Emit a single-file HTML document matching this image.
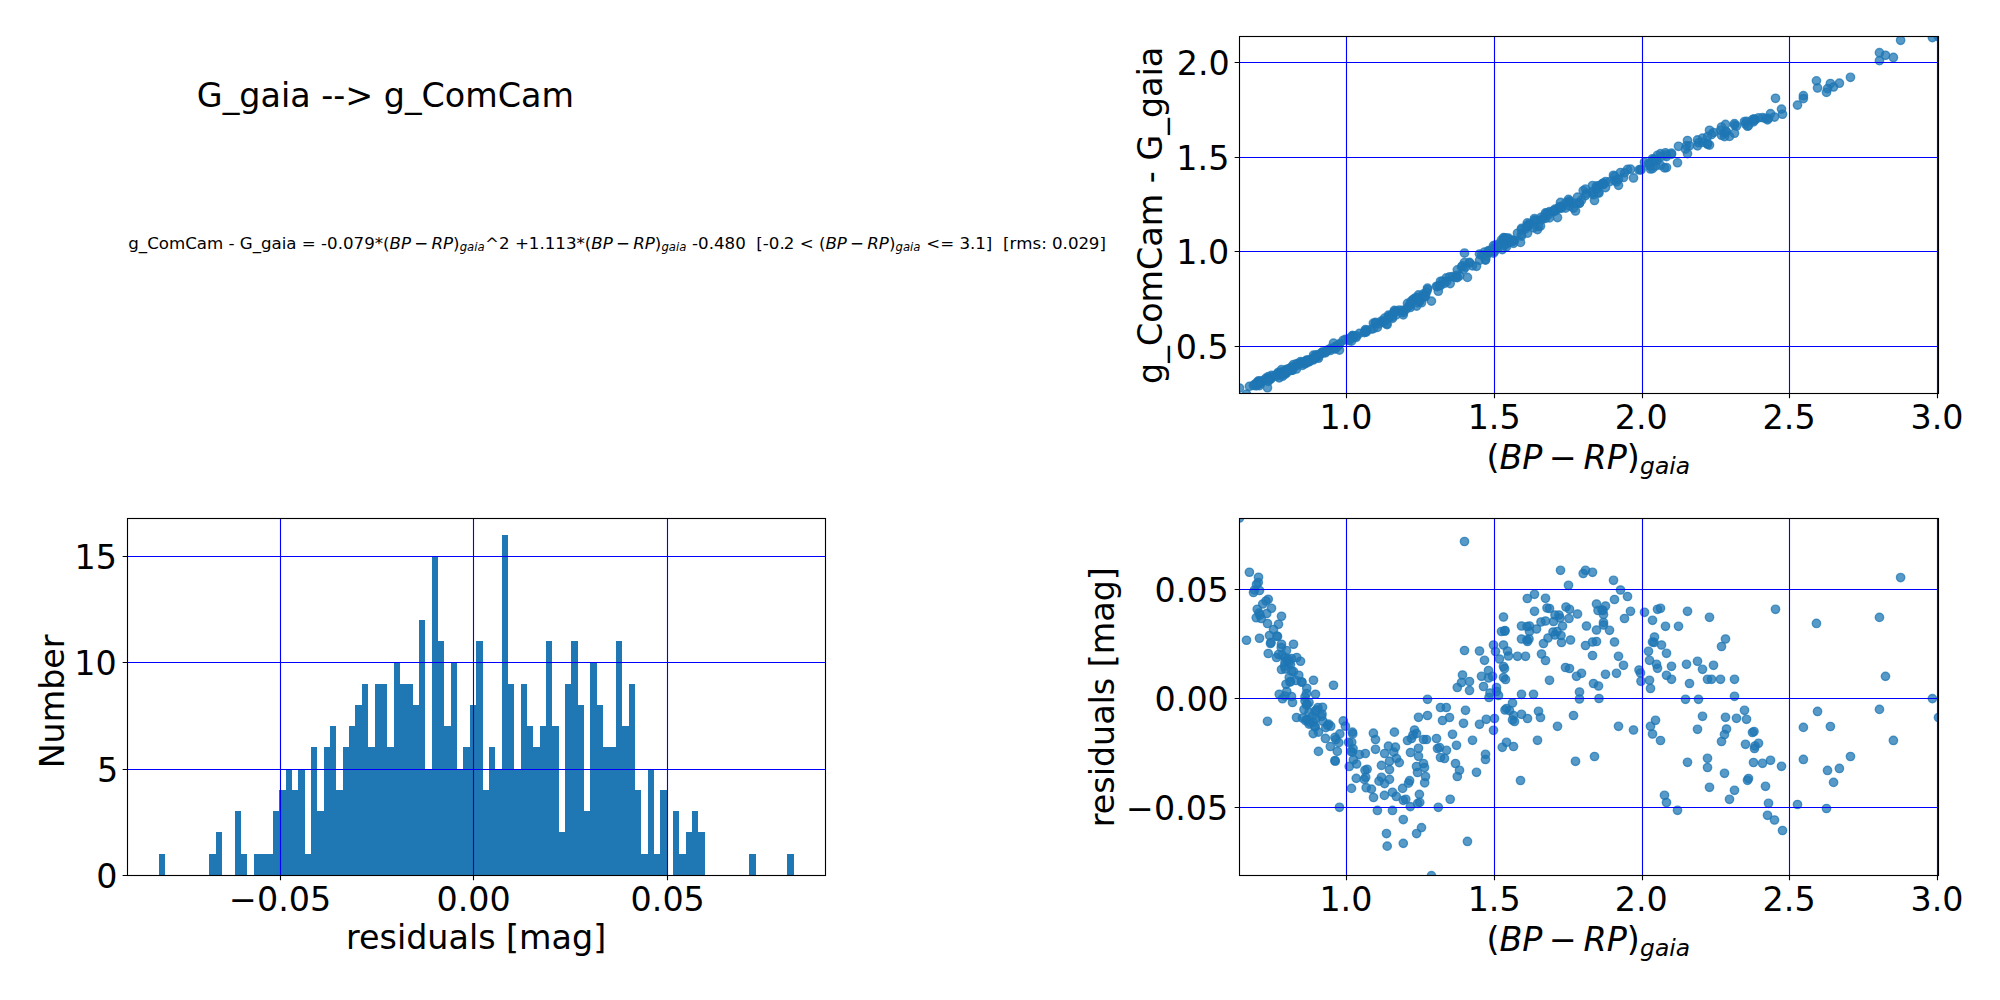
<!DOCTYPE html>
<html lang="en"><head><meta charset="utf-8"><title>G_gaia --&gt; g_ComCam</title>
<style>html,body{margin:0;padding:0;background:#fff}svg{display:block}text{font-family:"DejaVu Sans","Liberation Sans",sans-serif;fill:#000;white-space:pre}.g{stroke:#00f;stroke-width:1.11;fill:none}.s{stroke:#000;stroke-width:1.11;fill:none}.p circle{fill:#1f77b4;fill-opacity:.75;stroke:#1f77b4;stroke-opacity:.75;stroke-width:1.39}</style></head><body>
<svg width="2000" height="1000" viewBox="0 0 2000 1000">
<rect width="2000" height="1000" fill="#fff"/>
<defs><clipPath id="cTR"><rect x="1239.5" y="36.5" width="699" height="357"/></clipPath><clipPath id="cBL"><rect x="127.5" y="518.5" width="698" height="357"/></clipPath><clipPath id="cBR"><rect x="1239.5" y="518.5" width="699" height="357"/></clipPath></defs>
<g class="p" clip-path="url(#cTR)">
<circle cx="1239.5" cy="388.04" r="4.17"/><circle cx="1249.4" cy="386.35" r="4.17"/><circle cx="1258.5" cy="380.94" r="4.17"/><circle cx="1258.25" cy="381.55" r="4.17"/><circle cx="1256.5" cy="382.85" r="4.17"/><circle cx="1254.5" cy="384.61" r="4.17"/><circle cx="1253.5" cy="385.47" r="4.17"/><circle cx="1259.5" cy="381.45" r="4.17"/><circle cx="1268.25" cy="376.61" r="4.17"/><circle cx="1266" cy="378.2" r="4.17"/><circle cx="1262.75" cy="380.54" r="4.17"/><circle cx="1271.5" cy="375.32" r="4.17"/><circle cx="1257.25" cy="384.52" r="4.17"/><circle cx="1259" cy="383.72" r="4.17"/><circle cx="1260" cy="383.25" r="4.17"/><circle cx="1266.75" cy="378.81" r="4.17"/><circle cx="1256.25" cy="385.9" r="4.17"/><circle cx="1261.25" cy="382.76" r="4.17"/><circle cx="1281.5" cy="369.67" r="4.17"/><circle cx="1267.5" cy="379.2" r="4.17"/><circle cx="1278.5" cy="372.26" r="4.17"/><circle cx="1273.5" cy="375.89" r="4.17"/><circle cx="1246.5" cy="394.13" r="4.17"/><circle cx="1259.5" cy="385.59" r="4.17"/><circle cx="1269.5" cy="378.96" r="4.17"/><circle cx="1277" cy="374.23" r="4.17"/><circle cx="1277.5" cy="373.96" r="4.17"/><circle cx="1271" cy="378.61" r="4.17"/><circle cx="1270.5" cy="379.02" r="4.17"/><circle cx="1281.5" cy="372.1" r="4.17"/><circle cx="1293.5" cy="364.52" r="4.17"/><circle cx="1281.25" cy="372.54" r="4.17"/><circle cx="1286.5" cy="369.48" r="4.17"/><circle cx="1268.25" cy="381.32" r="4.17"/><circle cx="1276.5" cy="376.42" r="4.17"/><circle cx="1278.5" cy="374.89" r="4.17"/><circle cx="1282" cy="372.71" r="4.17"/><circle cx="1285" cy="371.03" r="4.17"/><circle cx="1288" cy="369.27" r="4.17"/><circle cx="1291.5" cy="367.02" r="4.17"/><circle cx="1296.75" cy="363.63" r="4.17"/><circle cx="1300.5" cy="361.6" r="4.17"/><circle cx="1285" cy="371.42" r="4.17"/><circle cx="1289" cy="368.99" r="4.17"/><circle cx="1284.5" cy="372.09" r="4.17"/><circle cx="1281.5" cy="374.29" r="4.17"/><circle cx="1285.5" cy="371.72" r="4.17"/><circle cx="1291.5" cy="368.1" r="4.17"/><circle cx="1293.5" cy="366.89" r="4.17"/><circle cx="1298.75" cy="363.92" r="4.17"/><circle cx="1289.25" cy="370.09" r="4.17"/><circle cx="1290.5" cy="369.65" r="4.17"/><circle cx="1290" cy="370.01" r="4.17"/><circle cx="1296" cy="366.1" r="4.17"/><circle cx="1301.5" cy="362.76" r="4.17"/><circle cx="1302" cy="362.49" r="4.17"/><circle cx="1286" cy="372.73" r="4.17"/><circle cx="1313.5" cy="355.13" r="4.17"/><circle cx="1333.5" cy="343.19" r="4.17"/><circle cx="1306.75" cy="360.04" r="4.17"/><circle cx="1286.75" cy="372.88" r="4.17"/><circle cx="1279.25" cy="377.87" r="4.17"/><circle cx="1285" cy="374.38" r="4.17"/><circle cx="1291.5" cy="370.32" r="4.17"/><circle cx="1315.5" cy="355.11" r="4.17"/><circle cx="1306.5" cy="360.65" r="4.17"/><circle cx="1305" cy="361.89" r="4.17"/><circle cx="1282.5" cy="376.2" r="4.17"/><circle cx="1292.5" cy="370.21" r="4.17"/><circle cx="1305" cy="362.24" r="4.17"/><circle cx="1309" cy="359.87" r="4.17"/><circle cx="1306.5" cy="361.65" r="4.17"/><circle cx="1304" cy="363.6" r="4.17"/><circle cx="1318" cy="354.7" r="4.17"/><circle cx="1322.5" cy="351.89" r="4.17"/><circle cx="1315" cy="356.87" r="4.17"/><circle cx="1309" cy="360.74" r="4.17"/><circle cx="1322" cy="352.79" r="4.17"/><circle cx="1296.5" cy="369" r="4.17"/><circle cx="1302.5" cy="365.28" r="4.17"/><circle cx="1312.5" cy="358.86" r="4.17"/><circle cx="1307" cy="362.6" r="4.17"/><circle cx="1267.49" cy="387.7" r="4.17"/><circle cx="1305.5" cy="363.63" r="4.17"/><circle cx="1309" cy="361.75" r="4.17"/><circle cx="1313.2" cy="358.95" r="4.17"/><circle cx="1316" cy="356.9" r="4.17"/><circle cx="1321.6" cy="353.24" r="4.17"/><circle cx="1323" cy="352.8" r="4.17"/><circle cx="1315.3" cy="358.07" r="4.17"/><circle cx="1325.8" cy="351.62" r="4.17"/><circle cx="1328.6" cy="349.58" r="4.17"/><circle cx="1330.7" cy="348.47" r="4.17"/><circle cx="1313.2" cy="359.95" r="4.17"/><circle cx="1318.45" cy="356.57" r="4.17"/><circle cx="1343.3" cy="340.28" r="4.17"/><circle cx="1345.4" cy="339.45" r="4.17"/><circle cx="1339.8" cy="343.55" r="4.17"/><circle cx="1334.9" cy="346.86" r="4.17"/><circle cx="1335.95" cy="346.4" r="4.17"/><circle cx="1325.45" cy="352.78" r="4.17"/><circle cx="1338.75" cy="344.95" r="4.17"/><circle cx="1330.35" cy="350.45" r="4.17"/><circle cx="1337.35" cy="346.57" r="4.17"/><circle cx="1318.45" cy="358.24" r="4.17"/><circle cx="1334.9" cy="348.87" r="4.17"/><circle cx="1335.25" cy="348.71" r="4.17"/><circle cx="1352.4" cy="335.69" r="4.17"/><circle cx="1352.75" cy="335.63" r="4.17"/><circle cx="1348.55" cy="338.92" r="4.17"/><circle cx="1351.7" cy="337" r="4.17"/><circle cx="1353.1" cy="336.7" r="4.17"/><circle cx="1351" cy="338.22" r="4.17"/><circle cx="1352.4" cy="337.43" r="4.17"/><circle cx="1359.4" cy="333.39" r="4.17"/><circle cx="1365.35" cy="329.69" r="4.17"/><circle cx="1353.45" cy="337.46" r="4.17"/><circle cx="1356.6" cy="335.91" r="4.17"/><circle cx="1349.25" cy="340.59" r="4.17"/><circle cx="1373.4" cy="323.08" r="4.17"/><circle cx="1375.5" cy="322.36" r="4.17"/><circle cx="1394.4" cy="310.43" r="4.17"/><circle cx="1375.5" cy="323.21" r="4.17"/><circle cx="1388.45" cy="315.18" r="4.17"/><circle cx="1395.45" cy="311.11" r="4.17"/><circle cx="1393.7" cy="312.57" r="4.17"/><circle cx="1384.6" cy="318.12" r="4.17"/><circle cx="1389.5" cy="315.86" r="4.17"/><circle cx="1396.5" cy="311.46" r="4.17"/><circle cx="1399.3" cy="310.16" r="4.17"/><circle cx="1381.45" cy="321.04" r="4.17"/><circle cx="1389.5" cy="316.59" r="4.17"/><circle cx="1365" cy="331.36" r="4.17"/><circle cx="1367.1" cy="330" r="4.17"/><circle cx="1356.25" cy="337.37" r="4.17"/><circle cx="1364.3" cy="332.58" r="4.17"/><circle cx="1365.7" cy="331.55" r="4.17"/><circle cx="1381.45" cy="322.07" r="4.17"/><circle cx="1379" cy="323.88" r="4.17"/><circle cx="1389.5" cy="317.45" r="4.17"/><circle cx="1384.6" cy="320.74" r="4.17"/><circle cx="1339.46" cy="350.13" r="4.17"/><circle cx="1351.5" cy="341.13" r="4.17"/><circle cx="1366.2" cy="332.15" r="4.17"/><circle cx="1371.45" cy="329.1" r="4.17"/><circle cx="1373.55" cy="328.57" r="4.17"/><circle cx="1384.4" cy="321.88" r="4.17"/><circle cx="1392.45" cy="316.8" r="4.17"/><circle cx="1396.3" cy="314.88" r="4.17"/><circle cx="1402.6" cy="310.45" r="4.17"/><circle cx="1408.55" cy="306.48" r="4.17"/><circle cx="1409.6" cy="305.65" r="4.17"/><circle cx="1424.65" cy="297" r="4.17"/><circle cx="1419.4" cy="301.07" r="4.17"/><circle cx="1403.3" cy="311.07" r="4.17"/><circle cx="1405.75" cy="309.53" r="4.17"/><circle cx="1410.3" cy="307.48" r="4.17"/><circle cx="1417.65" cy="302.89" r="4.17"/><circle cx="1419.75" cy="301.57" r="4.17"/><circle cx="1450.2" cy="283.62" r="4.17"/><circle cx="1438.3" cy="291.19" r="4.17"/><circle cx="1377.4" cy="327.38" r="4.17"/><circle cx="1392.45" cy="318.39" r="4.17"/><circle cx="1403.3" cy="312.74" r="4.17"/><circle cx="1421.5" cy="302.73" r="4.17"/><circle cx="1416.6" cy="306.12" r="4.17"/><circle cx="1386.5" cy="323.94" r="4.17"/><circle cx="1403.3" cy="314.81" r="4.17"/><circle cx="1387.2" cy="324.61" r="4.17"/><circle cx="1467.44" cy="277.42" r="4.17"/><circle cx="1431.44" cy="301.1" r="4.17"/><circle cx="1464.5" cy="253.05" r="4.17"/><circle cx="1560.5" cy="202.39" r="4.17"/><circle cx="1585.5" cy="189.07" r="4.17"/><circle cx="1583.2" cy="190.57" r="4.17"/><circle cx="1592.5" cy="185.55" r="4.17"/><circle cx="1568.5" cy="199.41" r="4.17"/><circle cx="1534.5" cy="218.56" r="4.17"/><circle cx="1527.3" cy="222.86" r="4.17"/><circle cx="1545.5" cy="212.92" r="4.17"/><circle cx="1534.5" cy="220.04" r="4.17"/><circle cx="1547" cy="212.95" r="4.17"/><circle cx="1549.5" cy="211.64" r="4.17"/><circle cx="1566" cy="202.63" r="4.17"/><circle cx="1569.5" cy="200.96" r="4.17"/><circle cx="1577.5" cy="197.11" r="4.17"/><circle cx="1596.5" cy="186.2" r="4.17"/><circle cx="1598" cy="185.98" r="4.17"/><circle cx="1503.5" cy="237.63" r="4.17"/><circle cx="1555" cy="209.23" r="4.17"/><circle cx="1559" cy="207.08" r="4.17"/><circle cx="1569" cy="202.02" r="4.17"/><circle cx="1560" cy="206.8" r="4.17"/><circle cx="1553.5" cy="210.61" r="4.17"/><circle cx="1541" cy="217.42" r="4.17"/><circle cx="1545.5" cy="214.89" r="4.17"/><circle cx="1562.5" cy="206.16" r="4.17"/><circle cx="1586.5" cy="193.38" r="4.17"/><circle cx="1596.5" cy="188.46" r="4.17"/><circle cx="1521.5" cy="228.44" r="4.17"/><circle cx="1527" cy="225.46" r="4.17"/><circle cx="1529.5" cy="224.05" r="4.17"/><circle cx="1536.5" cy="220.48" r="4.17"/><circle cx="1529.5" cy="224.52" r="4.17"/><circle cx="1501.5" cy="240" r="4.17"/><circle cx="1505" cy="237.96" r="4.17"/><circle cx="1504.8" cy="238.14" r="4.17"/><circle cx="1553" cy="211.79" r="4.17"/><circle cx="1557" cy="209.59" r="4.17"/><circle cx="1555" cy="210.97" r="4.17"/><circle cx="1561" cy="207.79" r="4.17"/><circle cx="1548" cy="215.01" r="4.17"/><circle cx="1521.5" cy="229.57" r="4.17"/><circle cx="1527" cy="226.63" r="4.17"/><circle cx="1529" cy="225.45" r="4.17"/><circle cx="1527.5" cy="226.49" r="4.17"/><circle cx="1543.5" cy="217.93" r="4.17"/><circle cx="1561.5" cy="208.13" r="4.17"/><circle cx="1570.5" cy="203.09" r="4.17"/><circle cx="1585.5" cy="195.6" r="4.17"/><circle cx="1592.5" cy="191.61" r="4.17"/><circle cx="1596.5" cy="189.46" r="4.17"/><circle cx="1493.5" cy="245.64" r="4.17"/><circle cx="1503.5" cy="240.06" r="4.17"/><circle cx="1495.5" cy="245.09" r="4.17"/><circle cx="1507.5" cy="238.35" r="4.17"/><circle cx="1508.5" cy="238.23" r="4.17"/><circle cx="1517.5" cy="233.28" r="4.17"/><circle cx="1525.5" cy="228.87" r="4.17"/><circle cx="1499.5" cy="243.5" r="4.17"/><circle cx="1464.5" cy="262.51" r="4.17"/><circle cx="1479.5" cy="254.04" r="4.17"/><circle cx="1484.5" cy="252.03" r="4.17"/><circle cx="1541.5" cy="219.93" r="4.17"/><circle cx="1545.5" cy="218.32" r="4.17"/><circle cx="1592.5" cy="192.78" r="4.17"/><circle cx="1503.5" cy="241.92" r="4.17"/><circle cx="1504.5" cy="241.54" r="4.17"/><circle cx="1488.5" cy="250.66" r="4.17"/><circle cx="1565.5" cy="208.15" r="4.17"/><circle cx="1569.5" cy="206.1" r="4.17"/><circle cx="1581.5" cy="200.13" r="4.17"/><circle cx="1576.5" cy="203.05" r="4.17"/><circle cx="1462.5" cy="265.78" r="4.17"/><circle cx="1481.5" cy="255.11" r="4.17"/><circle cx="1488.5" cy="251.31" r="4.17"/><circle cx="1492.5" cy="248.92" r="4.17"/><circle cx="1503.5" cy="242.88" r="4.17"/><circle cx="1505.5" cy="241.94" r="4.17"/><circle cx="1549.5" cy="217.88" r="4.17"/><circle cx="1469.5" cy="262.36" r="4.17"/><circle cx="1461.5" cy="267" r="4.17"/><circle cx="1457.3" cy="269.84" r="4.17"/><circle cx="1469.5" cy="263.14" r="4.17"/><circle cx="1483.5" cy="254.87" r="4.17"/><circle cx="1496.5" cy="247.65" r="4.17"/><circle cx="1496.5" cy="248" r="4.17"/><circle cx="1490" cy="251.77" r="4.17"/><circle cx="1498.5" cy="247.23" r="4.17"/><circle cx="1489" cy="252.73" r="4.17"/><circle cx="1521.5" cy="234.37" r="4.17"/><circle cx="1533.5" cy="227.79" r="4.17"/><circle cx="1593.5" cy="194.69" r="4.17"/><circle cx="1598.5" cy="192.28" r="4.17"/><circle cx="1579.5" cy="202.82" r="4.17"/><circle cx="1579.5" cy="203.43" r="4.17"/><circle cx="1599" cy="193.1" r="4.17"/><circle cx="1427.5" cy="288.09" r="4.17"/><circle cx="1512.5" cy="240.1" r="4.17"/><circle cx="1440.5" cy="281.25" r="4.17"/><circle cx="1446.3" cy="277.9" r="4.17"/><circle cx="1465.5" cy="267.14" r="4.17"/><circle cx="1418.5" cy="294.91" r="4.17"/><circle cx="1427.5" cy="289.49" r="4.17"/><circle cx="1442.5" cy="281.22" r="4.17"/><circle cx="1449.5" cy="276.92" r="4.17"/><circle cx="1463.5" cy="269.41" r="4.17"/><circle cx="1479.5" cy="260.41" r="4.17"/><circle cx="1486.3" cy="256.14" r="4.17"/><circle cx="1494.5" cy="251.47" r="4.17"/><circle cx="1493.5" cy="253.05" r="4.17"/><circle cx="1506.5" cy="243.9" r="4.17"/><circle cx="1509.5" cy="242.41" r="4.17"/><circle cx="1505" cy="244.87" r="4.17"/><circle cx="1513.5" cy="240.63" r="4.17"/><circle cx="1521.5" cy="236.11" r="4.17"/><circle cx="1527.5" cy="233.18" r="4.17"/><circle cx="1512.5" cy="241.57" r="4.17"/><circle cx="1514.5" cy="240.6" r="4.17"/><circle cx="1538.5" cy="226.54" r="4.17"/><circle cx="1540.5" cy="225.99" r="4.17"/><circle cx="1573.5" cy="208.05" r="4.17"/><circle cx="1557.5" cy="217.55" r="4.17"/><circle cx="1414.5" cy="298.36" r="4.17"/><circle cx="1416.5" cy="297.49" r="4.17"/><circle cx="1413" cy="299.68" r="4.17"/><circle cx="1407.5" cy="303.39" r="4.17"/><circle cx="1411.5" cy="300.86" r="4.17"/><circle cx="1423.5" cy="293.91" r="4.17"/><circle cx="1426.5" cy="292.16" r="4.17"/><circle cx="1436.5" cy="286.26" r="4.17"/><circle cx="1452.5" cy="276.66" r="4.17"/><circle cx="1472.5" cy="265.76" r="4.17"/><circle cx="1456.5" cy="275.32" r="4.17"/><circle cx="1437.5" cy="286.55" r="4.17"/><circle cx="1439.5" cy="285.3" r="4.17"/><circle cx="1446.5" cy="281.5" r="4.17"/><circle cx="1418.5" cy="297.6" r="4.17"/><circle cx="1410.5" cy="302.67" r="4.17"/><circle cx="1418.5" cy="298.3" r="4.17"/><circle cx="1440.5" cy="285.59" r="4.17"/><circle cx="1444.5" cy="283.37" r="4.17"/><circle cx="1455.5" cy="277.47" r="4.17"/><circle cx="1485.5" cy="259.63" r="4.17"/><circle cx="1485.5" cy="260.08" r="4.17"/><circle cx="1506.5" cy="246.84" r="4.17"/><circle cx="1502.3" cy="249.61" r="4.17"/><circle cx="1513.5" cy="243.32" r="4.17"/><circle cx="1537.5" cy="229.6" r="4.17"/><circle cx="1594.5" cy="200.5" r="4.17"/><circle cx="1575.5" cy="210.96" r="4.17"/><circle cx="1423.5" cy="296" r="4.17"/><circle cx="1416.5" cy="300.36" r="4.17"/><circle cx="1424.5" cy="295.76" r="4.17"/><circle cx="1417.5" cy="300.29" r="4.17"/><circle cx="1425.5" cy="295.96" r="4.17"/><circle cx="1459.5" cy="275.77" r="4.17"/><circle cx="1457.3" cy="277.57" r="4.17"/><circle cx="1476.5" cy="266.27" r="4.17"/><circle cx="1520.5" cy="242.41" r="4.17"/><circle cx="1613.5" cy="175.28" r="4.17"/><circle cx="1620.5" cy="172.49" r="4.17"/><circle cx="1627.5" cy="169.45" r="4.17"/><circle cx="1614.5" cy="176.42" r="4.17"/><circle cx="1605.5" cy="181.67" r="4.17"/><circle cx="1603" cy="183.37" r="4.17"/><circle cx="1603.5" cy="183.45" r="4.17"/><circle cx="1602" cy="183.85" r="4.17"/><circle cx="1630.5" cy="169.2" r="4.17"/><circle cx="1624.5" cy="172.91" r="4.17"/><circle cx="1603.5" cy="184.15" r="4.17"/><circle cx="1603.5" cy="184.36" r="4.17"/><circle cx="1609.5" cy="181.7" r="4.17"/><circle cx="1614.5" cy="180.12" r="4.17"/><circle cx="1644.5" cy="162.14" r="4.17"/><circle cx="1657.5" cy="155.3" r="4.17"/><circle cx="1660.5" cy="153.7" r="4.17"/><circle cx="1652.5" cy="158.78" r="4.17"/><circle cx="1665.5" cy="152.76" r="4.17"/><circle cx="1678.5" cy="146.27" r="4.17"/><circle cx="1687.5" cy="140.51" r="4.17"/><circle cx="1709.5" cy="130.27" r="4.17"/><circle cx="1775.5" cy="98.26" r="4.17"/><circle cx="1654.5" cy="159.22" r="4.17"/><circle cx="1652.5" cy="160.66" r="4.17"/><circle cx="1654" cy="159.95" r="4.17"/><circle cx="1725.5" cy="124.42" r="4.17"/><circle cx="1661.5" cy="156.39" r="4.17"/><circle cx="1721.5" cy="127" r="4.17"/><circle cx="1648.5" cy="163.49" r="4.17"/><circle cx="1666.5" cy="154.6" r="4.17"/><circle cx="1618.5" cy="179.29" r="4.17"/><circle cx="1623.5" cy="177.49" r="4.17"/><circle cx="1649.5" cy="163.77" r="4.17"/><circle cx="1656.5" cy="160.58" r="4.17"/><circle cx="1657.5" cy="160.42" r="4.17"/><circle cx="1671.5" cy="153.23" r="4.17"/><circle cx="1686.5" cy="145.61" r="4.17"/><circle cx="1697.5" cy="139.94" r="4.17"/><circle cx="1702.5" cy="138.19" r="4.17"/><circle cx="1713.5" cy="132.49" r="4.17"/><circle cx="1605.5" cy="187.6" r="4.17"/><circle cx="1616.5" cy="181.8" r="4.17"/><circle cx="1639" cy="169.95" r="4.17"/><circle cx="1640.5" cy="169.44" r="4.17"/><circle cx="1641" cy="169.91" r="4.17"/><circle cx="1649.5" cy="165.5" r="4.17"/><circle cx="1650.5" cy="165.71" r="4.17"/><circle cx="1666.5" cy="156.51" r="4.17"/><circle cx="1671.5" cy="154.36" r="4.17"/><circle cx="1689.5" cy="145.8" r="4.17"/><circle cx="1707.5" cy="136.62" r="4.17"/><circle cx="1711.5" cy="134.68" r="4.17"/><circle cx="1720.5" cy="130.33" r="4.17"/><circle cx="1734.5" cy="123.61" r="4.17"/><circle cx="1734.5" cy="125.09" r="4.17"/><circle cx="1685.5" cy="149.15" r="4.17"/><circle cx="1698.5" cy="142.75" r="4.17"/><circle cx="1744.5" cy="121.55" r="4.17"/><circle cx="1702.5" cy="142.27" r="4.17"/><circle cx="1725.5" cy="131.22" r="4.17"/><circle cx="1736.5" cy="126.05" r="4.17"/><circle cx="1746.5" cy="121.39" r="4.17"/><circle cx="1655.5" cy="165.95" r="4.17"/><circle cx="1650.5" cy="168.99" r="4.17"/><circle cx="1618.5" cy="185.37" r="4.17"/><circle cx="1633.5" cy="177.97" r="4.17"/><circle cx="1697.5" cy="145.85" r="4.17"/><circle cx="1726.5" cy="131.76" r="4.17"/><circle cx="1754" cy="118.91" r="4.17"/><circle cx="1752.5" cy="119.7" r="4.17"/><circle cx="1652.5" cy="168.65" r="4.17"/><circle cx="1724.5" cy="133.2" r="4.17"/><circle cx="1660.5" cy="165.18" r="4.17"/><circle cx="1721.5" cy="135.25" r="4.17"/><circle cx="1745.5" cy="124.03" r="4.17"/><circle cx="1758.5" cy="117.82" r="4.17"/><circle cx="1755" cy="119.7" r="4.17"/><circle cx="1754.5" cy="120.15" r="4.17"/><circle cx="1687.5" cy="153.63" r="4.17"/><circle cx="1707.5" cy="143.48" r="4.17"/><circle cx="1707.5" cy="144.28" r="4.17"/><circle cx="1724.5" cy="136.57" r="4.17"/><circle cx="1753.5" cy="121.84" r="4.17"/><circle cx="1762.5" cy="117.68" r="4.17"/><circle cx="1770.5" cy="113.69" r="4.17"/><circle cx="1781.5" cy="109.12" r="4.17"/><circle cx="1748.5" cy="125.58" r="4.17"/><circle cx="1747.5" cy="126.21" r="4.17"/><circle cx="1709.5" cy="145.03" r="4.17"/><circle cx="1734.5" cy="133.25" r="4.17"/><circle cx="1765.5" cy="118.28" r="4.17"/><circle cx="1729.5" cy="136.43" r="4.17"/><circle cx="1664.5" cy="167.93" r="4.17"/><circle cx="1666.5" cy="167.56" r="4.17"/><circle cx="1677.5" cy="162.75" r="4.17"/><circle cx="1768.5" cy="118.36" r="4.17"/><circle cx="1767.5" cy="119.87" r="4.17"/><circle cx="1774.5" cy="117.02" r="4.17"/><circle cx="1782.5" cy="114.24" r="4.17"/><circle cx="1797.5" cy="105.11" r="4.17"/><circle cx="1826.5" cy="92.39" r="4.17"/><circle cx="1900.6" cy="40.28" r="4.17"/><circle cx="1879.45" cy="52.7" r="4.17"/><circle cx="1816.45" cy="80.82" r="4.17"/><circle cx="1885.48" cy="55.25" r="4.17"/><circle cx="1932.37" cy="37.62" r="4.17"/><circle cx="1879.45" cy="60.68" r="4.17"/><circle cx="1817.53" cy="87.98" r="4.17"/><circle cx="1803.4" cy="95.73" r="4.17"/><circle cx="1830.4" cy="83.54" r="4.17"/><circle cx="1938.5" cy="36.76" r="4.17"/><circle cx="1893.4" cy="57.46" r="4.17"/><circle cx="1850.47" cy="77.3" r="4.17"/><circle cx="1803.4" cy="98.52" r="4.17"/><circle cx="1839.4" cy="83.2" r="4.17"/><circle cx="1827.52" cy="88.64" r="4.17"/><circle cx="1833.55" cy="87" r="4.17"/><circle cx="1290.5" cy="368.17" r="4.17"/><circle cx="1287.5" cy="369.76" r="4.17"/><circle cx="1307.2" cy="361.16" r="4.17"/><circle cx="1316.8" cy="355.65" r="4.17"/><circle cx="1309.6" cy="361.22" r="4.17"/><circle cx="1314.4" cy="358.55" r="4.17"/><circle cx="1327.6" cy="350.32" r="4.17"/>
</g>
<path class="g" d="M1346.5 36.5V393.5M1494.5 36.5V393.5M1642.5 36.5V393.5M1789.5 36.5V393.5M1937.5 36.5V393.5M1239.5 62.5H1938.5M1239.5 157.5H1938.5M1239.5 251.5H1938.5M1239.5 346.5H1938.5"/><path class="s" d="M1346.5 393.5v4.86M1494.5 393.5v4.86M1642.5 393.5v4.86M1789.5 393.5v4.86M1937.5 393.5v4.86M1239.5 62.5h-4.86M1239.5 157.5h-4.86M1239.5 251.5h-4.86M1239.5 346.5h-4.86"/><rect class="s" x="1239.5" y="36.5" width="699" height="357"/>
<path clip-path="url(#cBL)" d="M159 875.5V854H165V875.5H171V875.5H178V875.5H184V875.5H190V875.5H197V875.5H203V875.5H209V854H216V832H222V875.5H228V875.5H235V811H241V854H247V875.5H254V854H260V854H267V854H273V811H279V790H286V769H292V790H298V769H305V854H311V747H317V811H324V747H330V726H336V790H343V747H349V726H355V705H362V684H368V747H375V684H381V684H387V747H394V662H400V684H406V684H413V705H419V620H425V769H432V556H438V641H444V726H451V662H457V769H463V747H470V705H476V641H483V790H489V747H495V769H502V535H508V684H514V769H521V684H527V726H533V747H540V726H546V641H552V726H559V832H565V684H571V641H578V705H584V811H590V662H597V705H603V747H610V747H616V641H622V726H629V684H635V790H641V854H648V769H654V854H660V790H667V875.5H673V811H679V854H686V832H692V811H698V832H705V875.5H711V875.5H718V875.5H724V875.5H730V875.5H737V875.5H743V875.5H749V854H756V875.5H762V875.5H768V875.5H775V875.5H781V875.5H787V854H794V875.5Z" fill="#1f77b4" shape-rendering="crispEdges"/>
<path class="g" d="M280.5 518.5V875.5M473.5 518.5V875.5M667.5 518.5V875.5M127.5 875.5H825.5M127.5 769.5H825.5M127.5 662.5H825.5M127.5 556.5H825.5"/><path class="s" d="M280.5 875.5v4.86M473.5 875.5v4.86M667.5 875.5v4.86M127.5 875.5h-4.86M127.5 769.5h-4.86M127.5 662.5h-4.86M127.5 556.5h-4.86"/><rect class="s" x="127.5" y="518.5" width="698" height="357"/>
<g class="p" clip-path="url(#cBR)">
<circle cx="1239.5" cy="518" r="4.17"/><circle cx="1249.4" cy="572.25" r="4.17"/><circle cx="1258.5" cy="577.25" r="4.17"/><circle cx="1258.25" cy="582.5" r="4.17"/><circle cx="1256.5" cy="584.5" r="4.17"/><circle cx="1254.5" cy="590" r="4.17"/><circle cx="1253.5" cy="592.5" r="4.17"/><circle cx="1259.5" cy="590.5" r="4.17"/><circle cx="1268.25" cy="599.25" r="4.17"/><circle cx="1266" cy="601" r="4.17"/><circle cx="1262.75" cy="604" r="4.17"/><circle cx="1271.5" cy="608.25" r="4.17"/><circle cx="1257.25" cy="609.25" r="4.17"/><circle cx="1259" cy="613" r="4.17"/><circle cx="1260" cy="615" r="4.17"/><circle cx="1266.75" cy="613.5" r="4.17"/><circle cx="1256.25" cy="617.75" r="4.17"/><circle cx="1261.25" cy="618.5" r="4.17"/><circle cx="1281.5" cy="616.25" r="4.17"/><circle cx="1267.5" cy="623.5" r="4.17"/><circle cx="1278.5" cy="624.25" r="4.17"/><circle cx="1273.5" cy="629.5" r="4.17"/><circle cx="1246.5" cy="640.25" r="4.17"/><circle cx="1259.5" cy="638.25" r="4.17"/><circle cx="1269.5" cy="635.5" r="4.17"/><circle cx="1277" cy="636" r="4.17"/><circle cx="1277.5" cy="636.5" r="4.17"/><circle cx="1271" cy="642.5" r="4.17"/><circle cx="1270.5" cy="643.5" r="4.17"/><circle cx="1281.5" cy="644.25" r="4.17"/><circle cx="1293.5" cy="644.25" r="4.17"/><circle cx="1281.25" cy="647.5" r="4.17"/><circle cx="1286.5" cy="650.5" r="4.17"/><circle cx="1268.25" cy="653.5" r="4.17"/><circle cx="1276.5" cy="657.5" r="4.17"/><circle cx="1278.5" cy="654.5" r="4.17"/><circle cx="1282" cy="655" r="4.17"/><circle cx="1285" cy="657.5" r="4.17"/><circle cx="1288" cy="659" r="4.17"/><circle cx="1291.5" cy="658.5" r="4.17"/><circle cx="1296.75" cy="657.5" r="4.17"/><circle cx="1300.5" cy="661.25" r="4.17"/><circle cx="1285" cy="662" r="4.17"/><circle cx="1289" cy="663" r="4.17"/><circle cx="1284.5" cy="666" r="4.17"/><circle cx="1281.5" cy="669.5" r="4.17"/><circle cx="1285.5" cy="669" r="4.17"/><circle cx="1291.5" cy="671" r="4.17"/><circle cx="1293.5" cy="671.5" r="4.17"/><circle cx="1298.75" cy="675.25" r="4.17"/><circle cx="1289.25" cy="677.5" r="4.17"/><circle cx="1290.5" cy="681.5" r="4.17"/><circle cx="1290" cy="682" r="4.17"/><circle cx="1296" cy="680.5" r="4.17"/><circle cx="1301.5" cy="681.75" r="4.17"/><circle cx="1302" cy="682.25" r="4.17"/><circle cx="1286" cy="684.25" r="4.17"/><circle cx="1313.5" cy="680.25" r="4.17"/><circle cx="1333.5" cy="685.25" r="4.17"/><circle cx="1306.75" cy="688.25" r="4.17"/><circle cx="1286.75" cy="691.5" r="4.17"/><circle cx="1279.25" cy="694.25" r="4.17"/><circle cx="1285" cy="696" r="4.17"/><circle cx="1291.5" cy="696.5" r="4.17"/><circle cx="1315.5" cy="694.25" r="4.17"/><circle cx="1306.5" cy="693.5" r="4.17"/><circle cx="1305" cy="697" r="4.17"/><circle cx="1282.5" cy="698.75" r="4.17"/><circle cx="1292.5" cy="702.5" r="4.17"/><circle cx="1305" cy="701" r="4.17"/><circle cx="1309" cy="702.5" r="4.17"/><circle cx="1306.5" cy="705" r="4.17"/><circle cx="1304" cy="709.5" r="4.17"/><circle cx="1318" cy="707.5" r="4.17"/><circle cx="1322.5" cy="707.25" r="4.17"/><circle cx="1315" cy="711" r="4.17"/><circle cx="1309" cy="712.5" r="4.17"/><circle cx="1322" cy="714" r="4.17"/><circle cx="1296.5" cy="717.5" r="4.17"/><circle cx="1302.5" cy="718" r="4.17"/><circle cx="1312.5" cy="716" r="4.17"/><circle cx="1307" cy="719.5" r="4.17"/><circle cx="1267.49" cy="721.3" r="4.17"/><circle cx="1305.5" cy="720.6" r="4.17"/><circle cx="1309" cy="724.1" r="4.17"/><circle cx="1313.2" cy="722" r="4.17"/><circle cx="1316" cy="718.5" r="4.17"/><circle cx="1321.6" cy="716.4" r="4.17"/><circle cx="1323" cy="721.3" r="4.17"/><circle cx="1315.3" cy="726.9" r="4.17"/><circle cx="1325.8" cy="727.6" r="4.17"/><circle cx="1328.6" cy="724.1" r="4.17"/><circle cx="1330.7" cy="726.2" r="4.17"/><circle cx="1313.2" cy="733.55" r="4.17"/><circle cx="1318.45" cy="732.15" r="4.17"/><circle cx="1343.3" cy="720.95" r="4.17"/><circle cx="1345.4" cy="726.2" r="4.17"/><circle cx="1339.8" cy="733.9" r="4.17"/><circle cx="1334.9" cy="737.4" r="4.17"/><circle cx="1335.95" cy="739.5" r="4.17"/><circle cx="1325.45" cy="738.45" r="4.17"/><circle cx="1338.75" cy="742.65" r="4.17"/><circle cx="1330.35" cy="746.5" r="4.17"/><circle cx="1337.35" cy="751.4" r="4.17"/><circle cx="1318.45" cy="751.4" r="4.17"/><circle cx="1334.9" cy="760.5" r="4.17"/><circle cx="1335.25" cy="761.2" r="4.17"/><circle cx="1352.4" cy="732.15" r="4.17"/><circle cx="1352.75" cy="733.9" r="4.17"/><circle cx="1348.55" cy="742.3" r="4.17"/><circle cx="1351.7" cy="742.3" r="4.17"/><circle cx="1353.1" cy="748.6" r="4.17"/><circle cx="1351" cy="751.4" r="4.17"/><circle cx="1352.4" cy="752.1" r="4.17"/><circle cx="1359.4" cy="754.55" r="4.17"/><circle cx="1365.35" cy="753.5" r="4.17"/><circle cx="1353.45" cy="759.8" r="4.17"/><circle cx="1356.6" cy="764" r="4.17"/><circle cx="1349.25" cy="766.45" r="4.17"/><circle cx="1373.4" cy="733.2" r="4.17"/><circle cx="1375.5" cy="739.5" r="4.17"/><circle cx="1394.4" cy="732.15" r="4.17"/><circle cx="1375.5" cy="749.3" r="4.17"/><circle cx="1388.45" cy="746.15" r="4.17"/><circle cx="1395.45" cy="747.2" r="4.17"/><circle cx="1393.7" cy="752.1" r="4.17"/><circle cx="1384.6" cy="753.5" r="4.17"/><circle cx="1389.5" cy="761.2" r="4.17"/><circle cx="1396.5" cy="758.4" r="4.17"/><circle cx="1399.3" cy="762.6" r="4.17"/><circle cx="1381.45" cy="765.4" r="4.17"/><circle cx="1389.5" cy="769.6" r="4.17"/><circle cx="1365" cy="770.3" r="4.17"/><circle cx="1367.1" cy="769.25" r="4.17"/><circle cx="1356.25" cy="778.35" r="4.17"/><circle cx="1364.3" cy="779.4" r="4.17"/><circle cx="1365.7" cy="777.3" r="4.17"/><circle cx="1381.45" cy="777.3" r="4.17"/><circle cx="1379" cy="781.15" r="4.17"/><circle cx="1389.5" cy="779.4" r="4.17"/><circle cx="1384.6" cy="783.6" r="4.17"/><circle cx="1339.46" cy="807.3" r="4.17"/><circle cx="1351.5" cy="788.4" r="4.17"/><circle cx="1366.2" cy="787.7" r="4.17"/><circle cx="1371.45" cy="789.1" r="4.17"/><circle cx="1373.55" cy="797.5" r="4.17"/><circle cx="1384.4" cy="795.4" r="4.17"/><circle cx="1392.45" cy="792.25" r="4.17"/><circle cx="1396.3" cy="796.45" r="4.17"/><circle cx="1402.6" cy="788.4" r="4.17"/><circle cx="1408.55" cy="783.15" r="4.17"/><circle cx="1409.6" cy="780.7" r="4.17"/><circle cx="1424.65" cy="782.8" r="4.17"/><circle cx="1419.4" cy="794.35" r="4.17"/><circle cx="1403.3" cy="800.3" r="4.17"/><circle cx="1405.75" cy="799.25" r="4.17"/><circle cx="1410.3" cy="806.6" r="4.17"/><circle cx="1417.65" cy="803.45" r="4.17"/><circle cx="1419.75" cy="802.4" r="4.17"/><circle cx="1450.2" cy="799.25" r="4.17"/><circle cx="1438.3" cy="807.3" r="4.17"/><circle cx="1377.4" cy="810.45" r="4.17"/><circle cx="1392.45" cy="810.45" r="4.17"/><circle cx="1403.3" cy="819.55" r="4.17"/><circle cx="1421.5" cy="827.6" r="4.17"/><circle cx="1416.6" cy="833.55" r="4.17"/><circle cx="1386.5" cy="833.55" r="4.17"/><circle cx="1403.3" cy="843.35" r="4.17"/><circle cx="1387.2" cy="846.15" r="4.17"/><circle cx="1467.44" cy="841.44" r="4.17"/><circle cx="1431.44" cy="875.6" r="4.17"/><circle cx="1464.5" cy="541.5" r="4.17"/><circle cx="1560.5" cy="570.3" r="4.17"/><circle cx="1585.5" cy="570.3" r="4.17"/><circle cx="1583.2" cy="573.5" r="4.17"/><circle cx="1592.5" cy="572.3" r="4.17"/><circle cx="1568.5" cy="585.3" r="4.17"/><circle cx="1534.5" cy="594.3" r="4.17"/><circle cx="1527.3" cy="598.5" r="4.17"/><circle cx="1545.5" cy="598.3" r="4.17"/><circle cx="1534.5" cy="611.3" r="4.17"/><circle cx="1547" cy="608" r="4.17"/><circle cx="1549.5" cy="608.5" r="4.17"/><circle cx="1566" cy="607" r="4.17"/><circle cx="1569.5" cy="609.3" r="4.17"/><circle cx="1577.5" cy="614" r="4.17"/><circle cx="1596.5" cy="604" r="4.17"/><circle cx="1598" cy="610.5" r="4.17"/><circle cx="1503.5" cy="617" r="4.17"/><circle cx="1555" cy="615" r="4.17"/><circle cx="1559" cy="615" r="4.17"/><circle cx="1569" cy="618.5" r="4.17"/><circle cx="1560" cy="618" r="4.17"/><circle cx="1553.5" cy="621.5" r="4.17"/><circle cx="1541" cy="622" r="4.17"/><circle cx="1545.5" cy="621" r="4.17"/><circle cx="1562.5" cy="626" r="4.17"/><circle cx="1586.5" cy="626" r="4.17"/><circle cx="1596.5" cy="630" r="4.17"/><circle cx="1521.5" cy="626" r="4.17"/><circle cx="1527" cy="626.5" r="4.17"/><circle cx="1529.5" cy="626" r="4.17"/><circle cx="1536.5" cy="629" r="4.17"/><circle cx="1529.5" cy="631.5" r="4.17"/><circle cx="1501.5" cy="631.5" r="4.17"/><circle cx="1505" cy="630.5" r="4.17"/><circle cx="1504.8" cy="631.2" r="4.17"/><circle cx="1553" cy="632" r="4.17"/><circle cx="1557" cy="631.5" r="4.17"/><circle cx="1555" cy="635" r="4.17"/><circle cx="1561" cy="635.5" r="4.17"/><circle cx="1548" cy="638" r="4.17"/><circle cx="1521.5" cy="639" r="4.17"/><circle cx="1527" cy="640" r="4.17"/><circle cx="1529" cy="639" r="4.17"/><circle cx="1527.5" cy="641.5" r="4.17"/><circle cx="1543.5" cy="643.5" r="4.17"/><circle cx="1561.5" cy="642.5" r="4.17"/><circle cx="1570.5" cy="640" r="4.17"/><circle cx="1585.5" cy="645.5" r="4.17"/><circle cx="1592.5" cy="642" r="4.17"/><circle cx="1596.5" cy="641.5" r="4.17"/><circle cx="1493.5" cy="645" r="4.17"/><circle cx="1503.5" cy="645" r="4.17"/><circle cx="1495.5" cy="651.5" r="4.17"/><circle cx="1507.5" cy="651" r="4.17"/><circle cx="1508.5" cy="656" r="4.17"/><circle cx="1517.5" cy="656.3" r="4.17"/><circle cx="1525.5" cy="656.3" r="4.17"/><circle cx="1499.5" cy="659" r="4.17"/><circle cx="1464.5" cy="650.5" r="4.17"/><circle cx="1479.5" cy="651" r="4.17"/><circle cx="1484.5" cy="660.3" r="4.17"/><circle cx="1541.5" cy="654" r="4.17"/><circle cx="1545.5" cy="660.5" r="4.17"/><circle cx="1592.5" cy="655.5" r="4.17"/><circle cx="1503.5" cy="666.5" r="4.17"/><circle cx="1504.5" cy="668.5" r="4.17"/><circle cx="1488.5" cy="670.5" r="4.17"/><circle cx="1565.5" cy="667.5" r="4.17"/><circle cx="1569.5" cy="668.5" r="4.17"/><circle cx="1581.5" cy="673.3" r="4.17"/><circle cx="1576.5" cy="676.3" r="4.17"/><circle cx="1462.5" cy="675" r="4.17"/><circle cx="1481.5" cy="676.3" r="4.17"/><circle cx="1488.5" cy="678" r="4.17"/><circle cx="1492.5" cy="676.3" r="4.17"/><circle cx="1503.5" cy="677.5" r="4.17"/><circle cx="1505.5" cy="679.5" r="4.17"/><circle cx="1549.5" cy="680.3" r="4.17"/><circle cx="1469.5" cy="681.5" r="4.17"/><circle cx="1461.5" cy="682.5" r="4.17"/><circle cx="1457.3" cy="687.5" r="4.17"/><circle cx="1469.5" cy="690.5" r="4.17"/><circle cx="1483.5" cy="686.5" r="4.17"/><circle cx="1496.5" cy="687.5" r="4.17"/><circle cx="1496.5" cy="691.5" r="4.17"/><circle cx="1490" cy="693" r="4.17"/><circle cx="1498.5" cy="695.5" r="4.17"/><circle cx="1489" cy="697.5" r="4.17"/><circle cx="1521.5" cy="694.3" r="4.17"/><circle cx="1533.5" cy="694.3" r="4.17"/><circle cx="1593.5" cy="683.5" r="4.17"/><circle cx="1598.5" cy="686" r="4.17"/><circle cx="1579.5" cy="692" r="4.17"/><circle cx="1579.5" cy="699" r="4.17"/><circle cx="1599" cy="698.5" r="4.17"/><circle cx="1427.5" cy="699.3" r="4.17"/><circle cx="1512.5" cy="703" r="4.17"/><circle cx="1440.5" cy="707.5" r="4.17"/><circle cx="1446.3" cy="707.5" r="4.17"/><circle cx="1465.5" cy="710.3" r="4.17"/><circle cx="1418.5" cy="717.3" r="4.17"/><circle cx="1427.5" cy="715.5" r="4.17"/><circle cx="1442.5" cy="720.5" r="4.17"/><circle cx="1449.5" cy="717.5" r="4.17"/><circle cx="1463.5" cy="723.3" r="4.17"/><circle cx="1479.5" cy="724.3" r="4.17"/><circle cx="1486.3" cy="719.3" r="4.17"/><circle cx="1494.5" cy="718.5" r="4.17"/><circle cx="1493.5" cy="730.3" r="4.17"/><circle cx="1506.5" cy="708.5" r="4.17"/><circle cx="1509.5" cy="710.5" r="4.17"/><circle cx="1505" cy="710" r="4.17"/><circle cx="1513.5" cy="715.5" r="4.17"/><circle cx="1521.5" cy="714.3" r="4.17"/><circle cx="1527.5" cy="718.5" r="4.17"/><circle cx="1512.5" cy="720" r="4.17"/><circle cx="1514.5" cy="721.5" r="4.17"/><circle cx="1538.5" cy="711.3" r="4.17"/><circle cx="1540.5" cy="717.5" r="4.17"/><circle cx="1573.5" cy="715.5" r="4.17"/><circle cx="1557.5" cy="726.3" r="4.17"/><circle cx="1414.5" cy="730" r="4.17"/><circle cx="1416.5" cy="733.5" r="4.17"/><circle cx="1413" cy="735" r="4.17"/><circle cx="1407.5" cy="740.5" r="4.17"/><circle cx="1411.5" cy="738.5" r="4.17"/><circle cx="1423.5" cy="739.5" r="4.17"/><circle cx="1426.5" cy="739.5" r="4.17"/><circle cx="1436.5" cy="738.5" r="4.17"/><circle cx="1452.5" cy="734.3" r="4.17"/><circle cx="1472.5" cy="740.3" r="4.17"/><circle cx="1456.5" cy="745.3" r="4.17"/><circle cx="1437.5" cy="748.5" r="4.17"/><circle cx="1439.5" cy="747.5" r="4.17"/><circle cx="1446.5" cy="750.3" r="4.17"/><circle cx="1418.5" cy="748.3" r="4.17"/><circle cx="1410.5" cy="752.5" r="4.17"/><circle cx="1418.5" cy="756.3" r="4.17"/><circle cx="1440.5" cy="757.5" r="4.17"/><circle cx="1444.5" cy="758.5" r="4.17"/><circle cx="1455.5" cy="763.5" r="4.17"/><circle cx="1485.5" cy="754.3" r="4.17"/><circle cx="1485.5" cy="759.5" r="4.17"/><circle cx="1506.5" cy="742.3" r="4.17"/><circle cx="1502.3" cy="747.3" r="4.17"/><circle cx="1513.5" cy="746.5" r="4.17"/><circle cx="1537.5" cy="740.3" r="4.17"/><circle cx="1594.5" cy="756.5" r="4.17"/><circle cx="1575.5" cy="761.3" r="4.17"/><circle cx="1423.5" cy="763.5" r="4.17"/><circle cx="1416.5" cy="766.5" r="4.17"/><circle cx="1424.5" cy="767.5" r="4.17"/><circle cx="1417.5" cy="772.5" r="4.17"/><circle cx="1425.5" cy="776.5" r="4.17"/><circle cx="1459.5" cy="770.3" r="4.17"/><circle cx="1457.3" cy="776.5" r="4.17"/><circle cx="1476.5" cy="772.3" r="4.17"/><circle cx="1520.5" cy="780.5" r="4.17"/><circle cx="1613.5" cy="580.3" r="4.17"/><circle cx="1620.5" cy="590" r="4.17"/><circle cx="1627.5" cy="596.5" r="4.17"/><circle cx="1614.5" cy="599.5" r="4.17"/><circle cx="1605.5" cy="606" r="4.17"/><circle cx="1603" cy="610.5" r="4.17"/><circle cx="1603.5" cy="614.5" r="4.17"/><circle cx="1602" cy="610" r="4.17"/><circle cx="1630.5" cy="611.3" r="4.17"/><circle cx="1624.5" cy="618.5" r="4.17"/><circle cx="1603.5" cy="622.5" r="4.17"/><circle cx="1603.5" cy="625" r="4.17"/><circle cx="1609.5" cy="630.3" r="4.17"/><circle cx="1614.5" cy="642" r="4.17"/><circle cx="1644.5" cy="612.3" r="4.17"/><circle cx="1657.5" cy="609.3" r="4.17"/><circle cx="1660.5" cy="608.3" r="4.17"/><circle cx="1652.5" cy="620.3" r="4.17"/><circle cx="1665.5" cy="626.3" r="4.17"/><circle cx="1678.5" cy="626.3" r="4.17"/><circle cx="1687.5" cy="611.3" r="4.17"/><circle cx="1709.5" cy="617.3" r="4.17"/><circle cx="1775.5" cy="609.3" r="4.17"/><circle cx="1654.5" cy="637" r="4.17"/><circle cx="1652.5" cy="642" r="4.17"/><circle cx="1654" cy="642.5" r="4.17"/><circle cx="1725.5" cy="639" r="4.17"/><circle cx="1661.5" cy="645" r="4.17"/><circle cx="1721.5" cy="646.5" r="4.17"/><circle cx="1648.5" cy="651.3" r="4.17"/><circle cx="1666.5" cy="653.3" r="4.17"/><circle cx="1618.5" cy="656.3" r="4.17"/><circle cx="1623.5" cy="665.3" r="4.17"/><circle cx="1649.5" cy="660.3" r="4.17"/><circle cx="1656.5" cy="664.3" r="4.17"/><circle cx="1657.5" cy="668.3" r="4.17"/><circle cx="1671.5" cy="666.3" r="4.17"/><circle cx="1686.5" cy="664.3" r="4.17"/><circle cx="1697.5" cy="661.3" r="4.17"/><circle cx="1702.5" cy="669.3" r="4.17"/><circle cx="1713.5" cy="665.3" r="4.17"/><circle cx="1605.5" cy="674.3" r="4.17"/><circle cx="1616.5" cy="673.3" r="4.17"/><circle cx="1639" cy="670" r="4.17"/><circle cx="1640.5" cy="673" r="4.17"/><circle cx="1641" cy="681.3" r="4.17"/><circle cx="1649.5" cy="680.3" r="4.17"/><circle cx="1650.5" cy="688.5" r="4.17"/><circle cx="1666.5" cy="675.3" r="4.17"/><circle cx="1671.5" cy="679.3" r="4.17"/><circle cx="1689.5" cy="683.5" r="4.17"/><circle cx="1707.5" cy="679.3" r="4.17"/><circle cx="1711.5" cy="679.3" r="4.17"/><circle cx="1720.5" cy="679.3" r="4.17"/><circle cx="1734.5" cy="679.3" r="4.17"/><circle cx="1734.5" cy="696.3" r="4.17"/><circle cx="1685.5" cy="699.3" r="4.17"/><circle cx="1698.5" cy="699.3" r="4.17"/><circle cx="1744.5" cy="710.3" r="4.17"/><circle cx="1702.5" cy="716.3" r="4.17"/><circle cx="1725.5" cy="717.3" r="4.17"/><circle cx="1736.5" cy="718.3" r="4.17"/><circle cx="1746.5" cy="719.3" r="4.17"/><circle cx="1655.5" cy="720.3" r="4.17"/><circle cx="1650.5" cy="726.3" r="4.17"/><circle cx="1618.5" cy="726.3" r="4.17"/><circle cx="1633.5" cy="730" r="4.17"/><circle cx="1697.5" cy="729.3" r="4.17"/><circle cx="1726.5" cy="729" r="4.17"/><circle cx="1754" cy="731.5" r="4.17"/><circle cx="1752.5" cy="732.5" r="4.17"/><circle cx="1652.5" cy="734" r="4.17"/><circle cx="1724.5" cy="734.5" r="4.17"/><circle cx="1660.5" cy="740.5" r="4.17"/><circle cx="1721.5" cy="741.5" r="4.17"/><circle cx="1745.5" cy="744.3" r="4.17"/><circle cx="1758.5" cy="743.3" r="4.17"/><circle cx="1755" cy="746" r="4.17"/><circle cx="1754.5" cy="748.5" r="4.17"/><circle cx="1687.5" cy="762.3" r="4.17"/><circle cx="1707.5" cy="758.3" r="4.17"/><circle cx="1707.5" cy="767.5" r="4.17"/><circle cx="1724.5" cy="773.3" r="4.17"/><circle cx="1753.5" cy="762.5" r="4.17"/><circle cx="1762.5" cy="763.3" r="4.17"/><circle cx="1770.5" cy="760.3" r="4.17"/><circle cx="1781.5" cy="766.3" r="4.17"/><circle cx="1748.5" cy="778.5" r="4.17"/><circle cx="1747.5" cy="780.3" r="4.17"/><circle cx="1709.5" cy="787.3" r="4.17"/><circle cx="1734.5" cy="790.3" r="4.17"/><circle cx="1765.5" cy="786.3" r="4.17"/><circle cx="1729.5" cy="799.3" r="4.17"/><circle cx="1664.5" cy="795.3" r="4.17"/><circle cx="1666.5" cy="802.5" r="4.17"/><circle cx="1677.5" cy="810.3" r="4.17"/><circle cx="1768.5" cy="803.3" r="4.17"/><circle cx="1767.5" cy="815.3" r="4.17"/><circle cx="1774.5" cy="820" r="4.17"/><circle cx="1782.5" cy="830.5" r="4.17"/><circle cx="1797.5" cy="804.5" r="4.17"/><circle cx="1826.5" cy="808.5" r="4.17"/><circle cx="1900.6" cy="577.55" r="4.17"/><circle cx="1879.45" cy="617.42" r="4.17"/><circle cx="1816.45" cy="623.45" r="4.17"/><circle cx="1885.48" cy="676.37" r="4.17"/><circle cx="1932.37" cy="698.6" r="4.17"/><circle cx="1879.45" cy="709.4" r="4.17"/><circle cx="1817.53" cy="711.47" r="4.17"/><circle cx="1803.4" cy="727.4" r="4.17"/><circle cx="1830.4" cy="726.5" r="4.17"/><circle cx="1938.5" cy="717.5" r="4.17"/><circle cx="1893.4" cy="740.48" r="4.17"/><circle cx="1850.47" cy="756.5" r="4.17"/><circle cx="1803.4" cy="759.47" r="4.17"/><circle cx="1839.4" cy="768.47" r="4.17"/><circle cx="1827.52" cy="770.45" r="4.17"/><circle cx="1833.55" cy="782.42" r="4.17"/><circle cx="1290.5" cy="664.5" r="4.17"/><circle cx="1287.5" cy="661" r="4.17"/><circle cx="1307.2" cy="704.4" r="4.17"/><circle cx="1316.8" cy="709.8" r="4.17"/><circle cx="1309.6" cy="722.4" r="4.17"/><circle cx="1314.4" cy="726" r="4.17"/><circle cx="1327.6" cy="725.4" r="4.17"/>
</g>
<path class="g" d="M1346.5 518.5V875.5M1494.5 518.5V875.5M1642.5 518.5V875.5M1789.5 518.5V875.5M1937.5 518.5V875.5M1239.5 589.5H1938.5M1239.5 698.5H1938.5M1239.5 807.5H1938.5"/><path class="s" d="M1346.5 875.5v4.86M1494.5 875.5v4.86M1642.5 875.5v4.86M1789.5 875.5v4.86M1937.5 875.5v4.86M1239.5 589.5h-4.86M1239.5 698.5h-4.86M1239.5 807.5h-4.86"/><rect class="s" x="1239.5" y="518.5" width="699" height="357"/>
<text x="196.83" y="107" font-size="33.33">G_gaia --&gt; g_ComCam</text>
<text><tspan x="128.26 138.82 147.14 158.76 168.94 185.15 196.77 206.97 223.18 228.47 234.48 239.77 252.66 260.98 271.55 281.74 286.37 296.57 301.86 315.8 321.09 327.09 337.68 342.97 353.56 364.15 374.74 383.06" y="249" font-size="16.67">g_ComCam - G_gaia = -0.079*(</tspan><tspan x="389.55 400.97" y="249" font-size="16.67" font-style="oblique">BP</tspan><tspan x="414.24" y="249" font-size="16.67">−</tspan><tspan x="431.43 442.99" y="249" font-size="16.67" font-style="oblique">RP</tspan><tspan x="453.03" y="249" font-size="16.67">)</tspan><tspan x="459.68 467.08 474.22 477.45" y="251.09" font-size="11.67" font-style="oblique">gaia</tspan><tspan x="485.06 499 509.59 514.88 528.82 539.41 544.7 555.29 565.88 576.46 584.78" y="249" font-size="16.67">^2 +1.113*(</tspan><tspan x="591.28 602.69" y="249" font-size="16.67" font-style="oblique">BP</tspan><tspan x="615.97" y="249" font-size="16.67">−</tspan><tspan x="633.16 644.72" y="249" font-size="16.67" font-style="oblique">RP</tspan><tspan x="654.76" y="249" font-size="16.67">)</tspan><tspan x="661.41 668.81 675.94 679.18" y="251.09" font-size="11.67" font-style="oblique">gaia</tspan><tspan x="686.78 692.07 698.08 708.67 713.96 724.55 735.13 745.72 751.01 756.3 762.79 768.8 779.39 783.8 794.39 799.68 813.62 818.91" y="249" font-size="16.67"> -0.480  [-0.2 &lt; (</tspan><tspan x="825.4 836.82" y="249" font-size="16.67" font-style="oblique">BP</tspan><tspan x="850.1" y="249" font-size="16.67">−</tspan><tspan x="867.28 878.85" y="249" font-size="16.67" font-style="oblique">RP</tspan><tspan x="888.88" y="249" font-size="16.67">)</tspan><tspan x="895.54 902.93 910.07 913.31" y="251.09" font-size="11.67" font-style="oblique">gaia</tspan><tspan x="920.91 926.2 940.15 954.09 959.38 969.97 975.26 985.85 992.34 997.63 1002.92 1009.41 1016.25 1032.46 1041.13 1046.74 1052.03 1062.62 1067.91 1078.5 1088.83 1099.42" y="249" font-size="16.67"> &lt;= 3.1]  [rms: 0.029]</tspan></text>
<text x="1319.42" y="429" font-size="33.33">1.0</text>
<text x="1467.66" y="429" font-size="33.33">1.5</text>
<text x="1614.8" y="429" font-size="33.33">2.0</text>
<text x="1762.61" y="429" font-size="33.33">2.5</text>
<text x="1910.44" y="429" font-size="33.33">3.0</text>
<text><tspan x="1486.44" y="469" font-size="33.33">(</tspan><tspan x="1499.46 1522.36" y="469" font-size="33.33" font-style="oblique">BP</tspan><tspan x="1548.99" y="469" font-size="33.33">−</tspan><tspan x="1583.46 1606.65" y="469" font-size="33.33" font-style="oblique">RP</tspan><tspan x="1626.77" y="469" font-size="33.33">)</tspan><tspan x="1640.11 1654.94 1669.25 1675.74" y="474.41" font-size="23.33" font-style="oblique">gaia</tspan></text>
<text x="1175.77" y="359" font-size="33.33">0.5</text>
<text x="1176.32" y="264" font-size="33.33">1.0</text>
<text x="1176.36" y="170" font-size="33.33">1.5</text>
<text x="1176.68" y="75" font-size="33.33">2.0</text>
<text x="1162" y="383.92" font-size="33.33" transform="rotate(-90 1162 383.92)">g_ComCam - G_gaia</text>
<text x="229.02" y="911" font-size="33.33">−0.05</text>
<text x="436.54" y="911" font-size="33.33">0.00</text>
<text x="630.61" y="911" font-size="33.33">0.05</text>
<text x="346.1" y="949" font-size="33.33">residuals [mag]</text>
<text x="96.14" y="888" font-size="33.33">0</text>
<text x="97.11" y="782" font-size="33.33">5</text>
<text x="74.24" y="675" font-size="33.33">10</text>
<text x="74.45" y="569" font-size="33.33">15</text>
<text x="64" y="768.34" font-size="33.33" transform="rotate(-90 64 768.34)">Number</text>
<text x="1319.42" y="911" font-size="33.33">1.0</text>
<text x="1467.66" y="911" font-size="33.33">1.5</text>
<text x="1614.8" y="911" font-size="33.33">2.0</text>
<text x="1762.61" y="911" font-size="33.33">2.5</text>
<text x="1910.44" y="911" font-size="33.33">3.0</text>
<text><tspan x="1486.44" y="951" font-size="33.33">(</tspan><tspan x="1499.46 1522.36" y="951" font-size="33.33" font-style="oblique">BP</tspan><tspan x="1548.99" y="951" font-size="33.33">−</tspan><tspan x="1583.46 1606.65" y="951" font-size="33.33" font-style="oblique">RP</tspan><tspan x="1626.77" y="951" font-size="33.33">)</tspan><tspan x="1640.11 1654.94 1669.25 1675.74" y="956.41" font-size="23.33" font-style="oblique">gaia</tspan></text>
<text x="1126.07" y="820" font-size="33.33">−0.05</text>
<text x="1154.6" y="711" font-size="33.33">0.00</text>
<text x="1154.49" y="602" font-size="33.33">0.05</text>
<text x="1114" y="827.21" font-size="33.33" transform="rotate(-90 1114 827.21)">residuals [mag]</text>
</svg></body></html>
